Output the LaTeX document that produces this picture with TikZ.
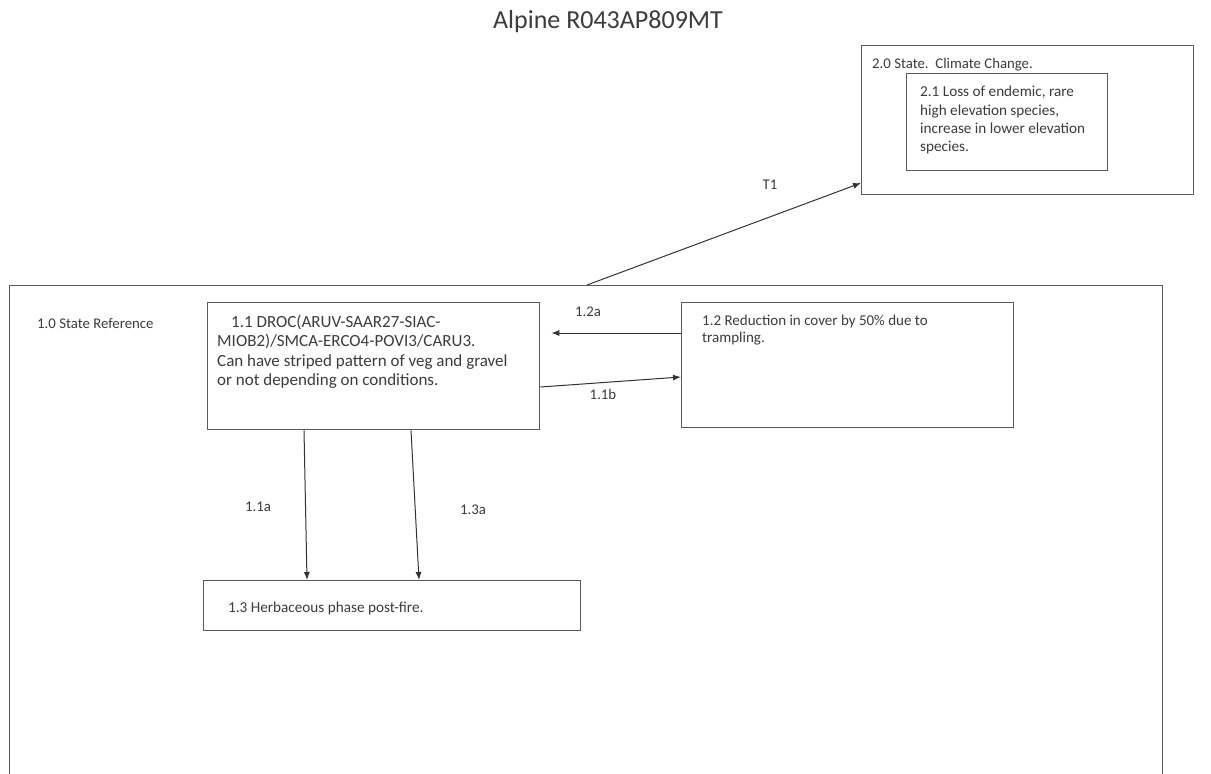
\documentclass[tikz,border=0pt]{standalone}
\usepackage{fontspec}
\setmainfont{Carlito}
\usetikzlibrary{arrows.meta}

\definecolor{linegray}{HTML}{5A5A5A}
\definecolor{textgray}{HTML}{3C3C3C}

\tikzset{
  statebox/.style={draw=linegray, line width=1.3pt, inner sep=0pt, anchor=north west},
  lbl/.style={text=textgray, font=\fontsize{14.8}{17}\selectfont, inner sep=0pt},
  blk/.style={text=textgray, align=left, inner sep=0pt, anchor=north west},
  trans/.style={->, >={Latex[length=8pt,width=6pt]}, draw=black!80, line width=1pt},
}

\begin{document}
\begin{tikzpicture}[x=1pt, y=-1pt]
        \clip (0,0) rectangle (1211,774);
        \fill[white] (0,0) rectangle (1211,774);

        \node[text=textgray, font=\fontsize{26}{30}\selectfont] (title) at (608,22) {Alpine R043AP809MT};

        % boxes
        \node[statebox, minimum width=1153pt, minimum height=520pt] (ref) at (9,285) {};
        \node[statebox, minimum width=332pt, minimum height=149pt] (s20) at (861,45) {};
        \node[statebox, minimum width=201pt, minimum height=97pt] (p21) at (906,73) {};
        \node[statebox, minimum width=332pt, minimum height=127pt] (p11) at (207,302) {};
        \node[statebox, minimum width=332pt, minimum height=125pt] (p12) at (681,302) {};
        \node[statebox, minimum width=377pt, minimum height=50pt] (p13) at (203,580) {};

        % box texts
        \node[lbl, anchor=west] (t20) at (872,65) {2.0 State.\ \ Climate Change.};
        \node[blk, font=\fontsize{15.2}{18.3}\selectfont] (t21) at (920,86)
          {2.1 Loss of endemic, rare\\high elevation species,\\increase in lower elevation\\species.};
        \node[lbl, anchor=west] (t10) at (37,323) {1.0 State Reference};
        \node[blk, font=\fontsize{17}{19.2}\selectfont] (t11) at (217,315)
          {\hspace{14pt}1.1 DROC(ARUV-SAAR27-SIAC-\\MIOB2)/SMCA-ERCO4-POVI3/CARU3.\\Can have striped pattern of veg and gravel\\or not depending on conditions.};
        \node[blk, font=\fontsize{15}{17}\selectfont] (t12) at (702,315)
          {1.2 Reduction in cover by 50\% due to\\trampling.};
        \node[lbl, anchor=west, font=\fontsize{15.2}{17}\selectfont] (t13) at (228,608) {1.3 Herbaceous phase post-fire.};

        % transitions
        \draw[trans] ([xshift=578pt]ref.north west) -- ([yshift=-138pt]s20.north west);
        \draw[trans] ([yshift=-31pt]p12.north west) -- ([xshift=11pt, yshift=-31pt]p11.north east);
        \draw[trans] ([yshift=-85pt]p11.north east) -- ([yshift=-75pt]p12.north west);
        \draw[trans] ([xshift=97pt]p11.south west) -- ([xshift=104pt]p13.north west);
        \draw[trans] ([xshift=204pt]p11.south west) -- ([xshift=216pt]p13.north west);

        \node[lbl] (T1) at (770,185) {T1};
        \node[lbl] (l12a) at (588,312) {1.2a};
        \node[lbl] (l11b) at (603,394) {1.1b};
        \node[lbl] (l11a) at (258,507) {1.1a};
        \node[lbl] (l13a) at (473,510) {1.3a};
      \end{tikzpicture}
\end{document}
